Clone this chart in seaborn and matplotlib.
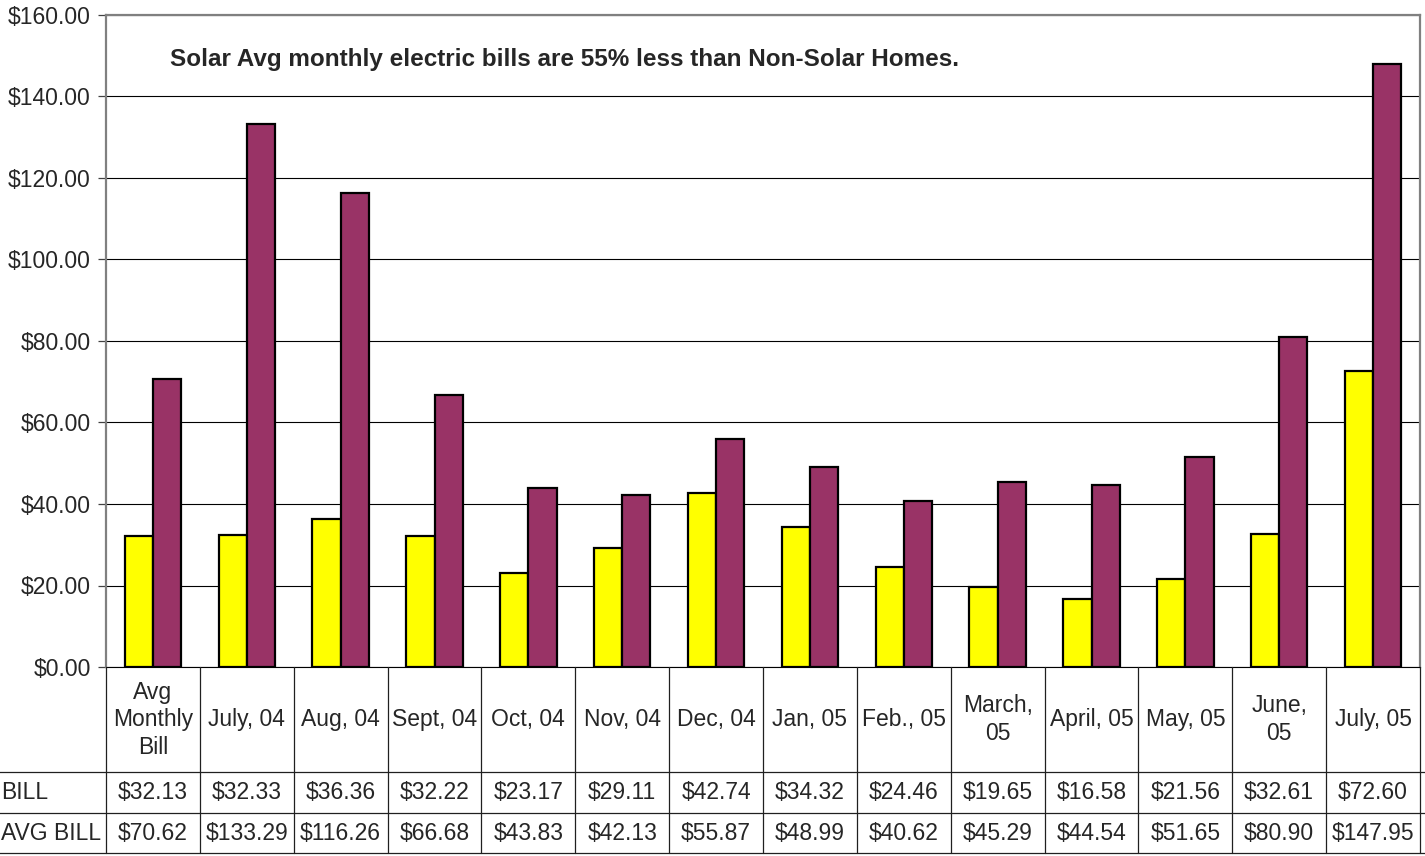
import matplotlib
matplotlib.use("Agg")
import matplotlib.pyplot as plt
import seaborn as sns
import pandas as pd
from matplotlib.ticker import FuncFormatter, MultipleLocator

# months / categories shown in the data table header
categories = [
    "Avg\nMonthly\nBill", "July, 04", "Aug, 04", "Sept, 04", "Oct, 04",
    "Nov, 04", "Dec, 04", "Jan, 05", "Feb., 05", "March,\n05",
    "April, 05", "May, 05", "June,\n05", "July, 05",
]
solar_bill = [32.13, 32.33, 36.36, 32.22, 23.17, 29.11, 42.74,
              34.32, 24.46, 19.65, 16.58, 21.56, 32.61, 72.60]
non_solar_bill = [70.62, 133.29, 116.26, 66.68, 43.83, 42.13, 55.87,
                  48.99, 40.62, 45.29, 44.54, 51.65, 80.90, 147.95]
series_names = ["SOLAR", "NON-SOLAR"]
# row headers of the table (only their ends are visible in the cropped original)
row_labels = ["BILL", "AVG BILL"]
series_colors = ["#FFFF00", "#993366"]
title_text = "Solar Avg monthly electric bills are 55% less than Non-Solar Homes."

sns.set_style("white")
plt.rcParams["font.family"] = ["Liberation Sans", "DejaVu Sans"]

df = pd.DataFrame({
    "month": categories * 2,
    "series": [series_names[0]] * len(categories) + [series_names[1]] * len(categories),
    "bill": solar_bill + non_solar_bill,
})

fig = plt.figure(figsize=(14.25, 8.56), dpi=100)
W, H = 1425, 856
left, right = 106 / W, 1420 / W
ax = fig.add_axes([left, 1 - 667 / H, right - left, (667 - 15) / H])
tab = fig.add_axes([left, 1 - 853 / H, right - left, (853 - 667) / H])

sns.barplot(data=df, x="month", y="bill", hue="series", order=categories,
            hue_order=series_names, palette=series_colors, saturation=1,
            width=0.6, edgecolor="black", linewidth=1.6, legend=False,
            ax=ax, zorder=3)

ax.set_xlim(-0.5, len(categories) - 0.5)
ax.set_ylim(0, 160)
ax.yaxis.set_major_locator(MultipleLocator(20))
ax.yaxis.set_major_formatter(FuncFormatter(lambda v, p: f"${v:,.2f}"))
ax.grid(axis="y", color="black", linewidth=0.8, zorder=0)
ax.set_axisbelow(True)
ax.set_xlabel("")
ax.set_ylabel("")
ax.set_xticks([])
ax.tick_params(axis="y", direction="out", length=6, width=0.9, color="#404040",
               labelsize=16.5, pad=5, left=True)
for side in ["left", "top", "right"]:
    ax.spines[side].set_color("#808080")
    ax.spines[side].set_linewidth(1.6)
ax.spines["bottom"].set_color("black")
ax.spines["bottom"].set_linewidth(0.8)

ax.text(0.0487, 0.932, title_text, transform=ax.transAxes, fontsize=17.5,
        fontweight="bold", va="center", ha="left")

# data table under the chart
n = len(categories)
tab.set_xlim(-0.5, n - 0.5)
tab.set_ylim(0, 1)
tab.axis("off")
row_lines = [0.435, 0.215, 0.0]
row_centers = [(0.435 + 0.215) / 2, 0.215 / 2]
line_kw = dict(color="#202020", linewidth=0.9, clip_on=False)
for y in row_lines:
    tab.plot([-0.1, 1.005], [y, y], transform=tab.get_yaxis_transform(), **line_kw)
for i in range(n + 1):
    tab.plot([i - 0.5, i - 0.5], [0, 1], **line_kw)

for i, lab in enumerate(categories):
    tab.text(i, (1 + 0.435) / 2, lab, ha="center", va="center",
             fontsize=16.5, linespacing=1.25)
    tab.text(i, row_centers[0], f"${solar_bill[i]:,.2f}",
             ha="center", va="center", fontsize=16.5)
    tab.text(i, row_centers[1], f"${non_solar_bill[i]:,.2f}",
             ha="center", va="center", fontsize=16.5)

# row headers at the very left edge of the figure
for lab, yc in zip(row_labels, row_centers):
    fig.text(1 / W, 1 - (853 - yc * 186) / H, lab, ha="left", va="center",
             fontsize=16.5)

fig.savefig("out.png", dpi=100)
